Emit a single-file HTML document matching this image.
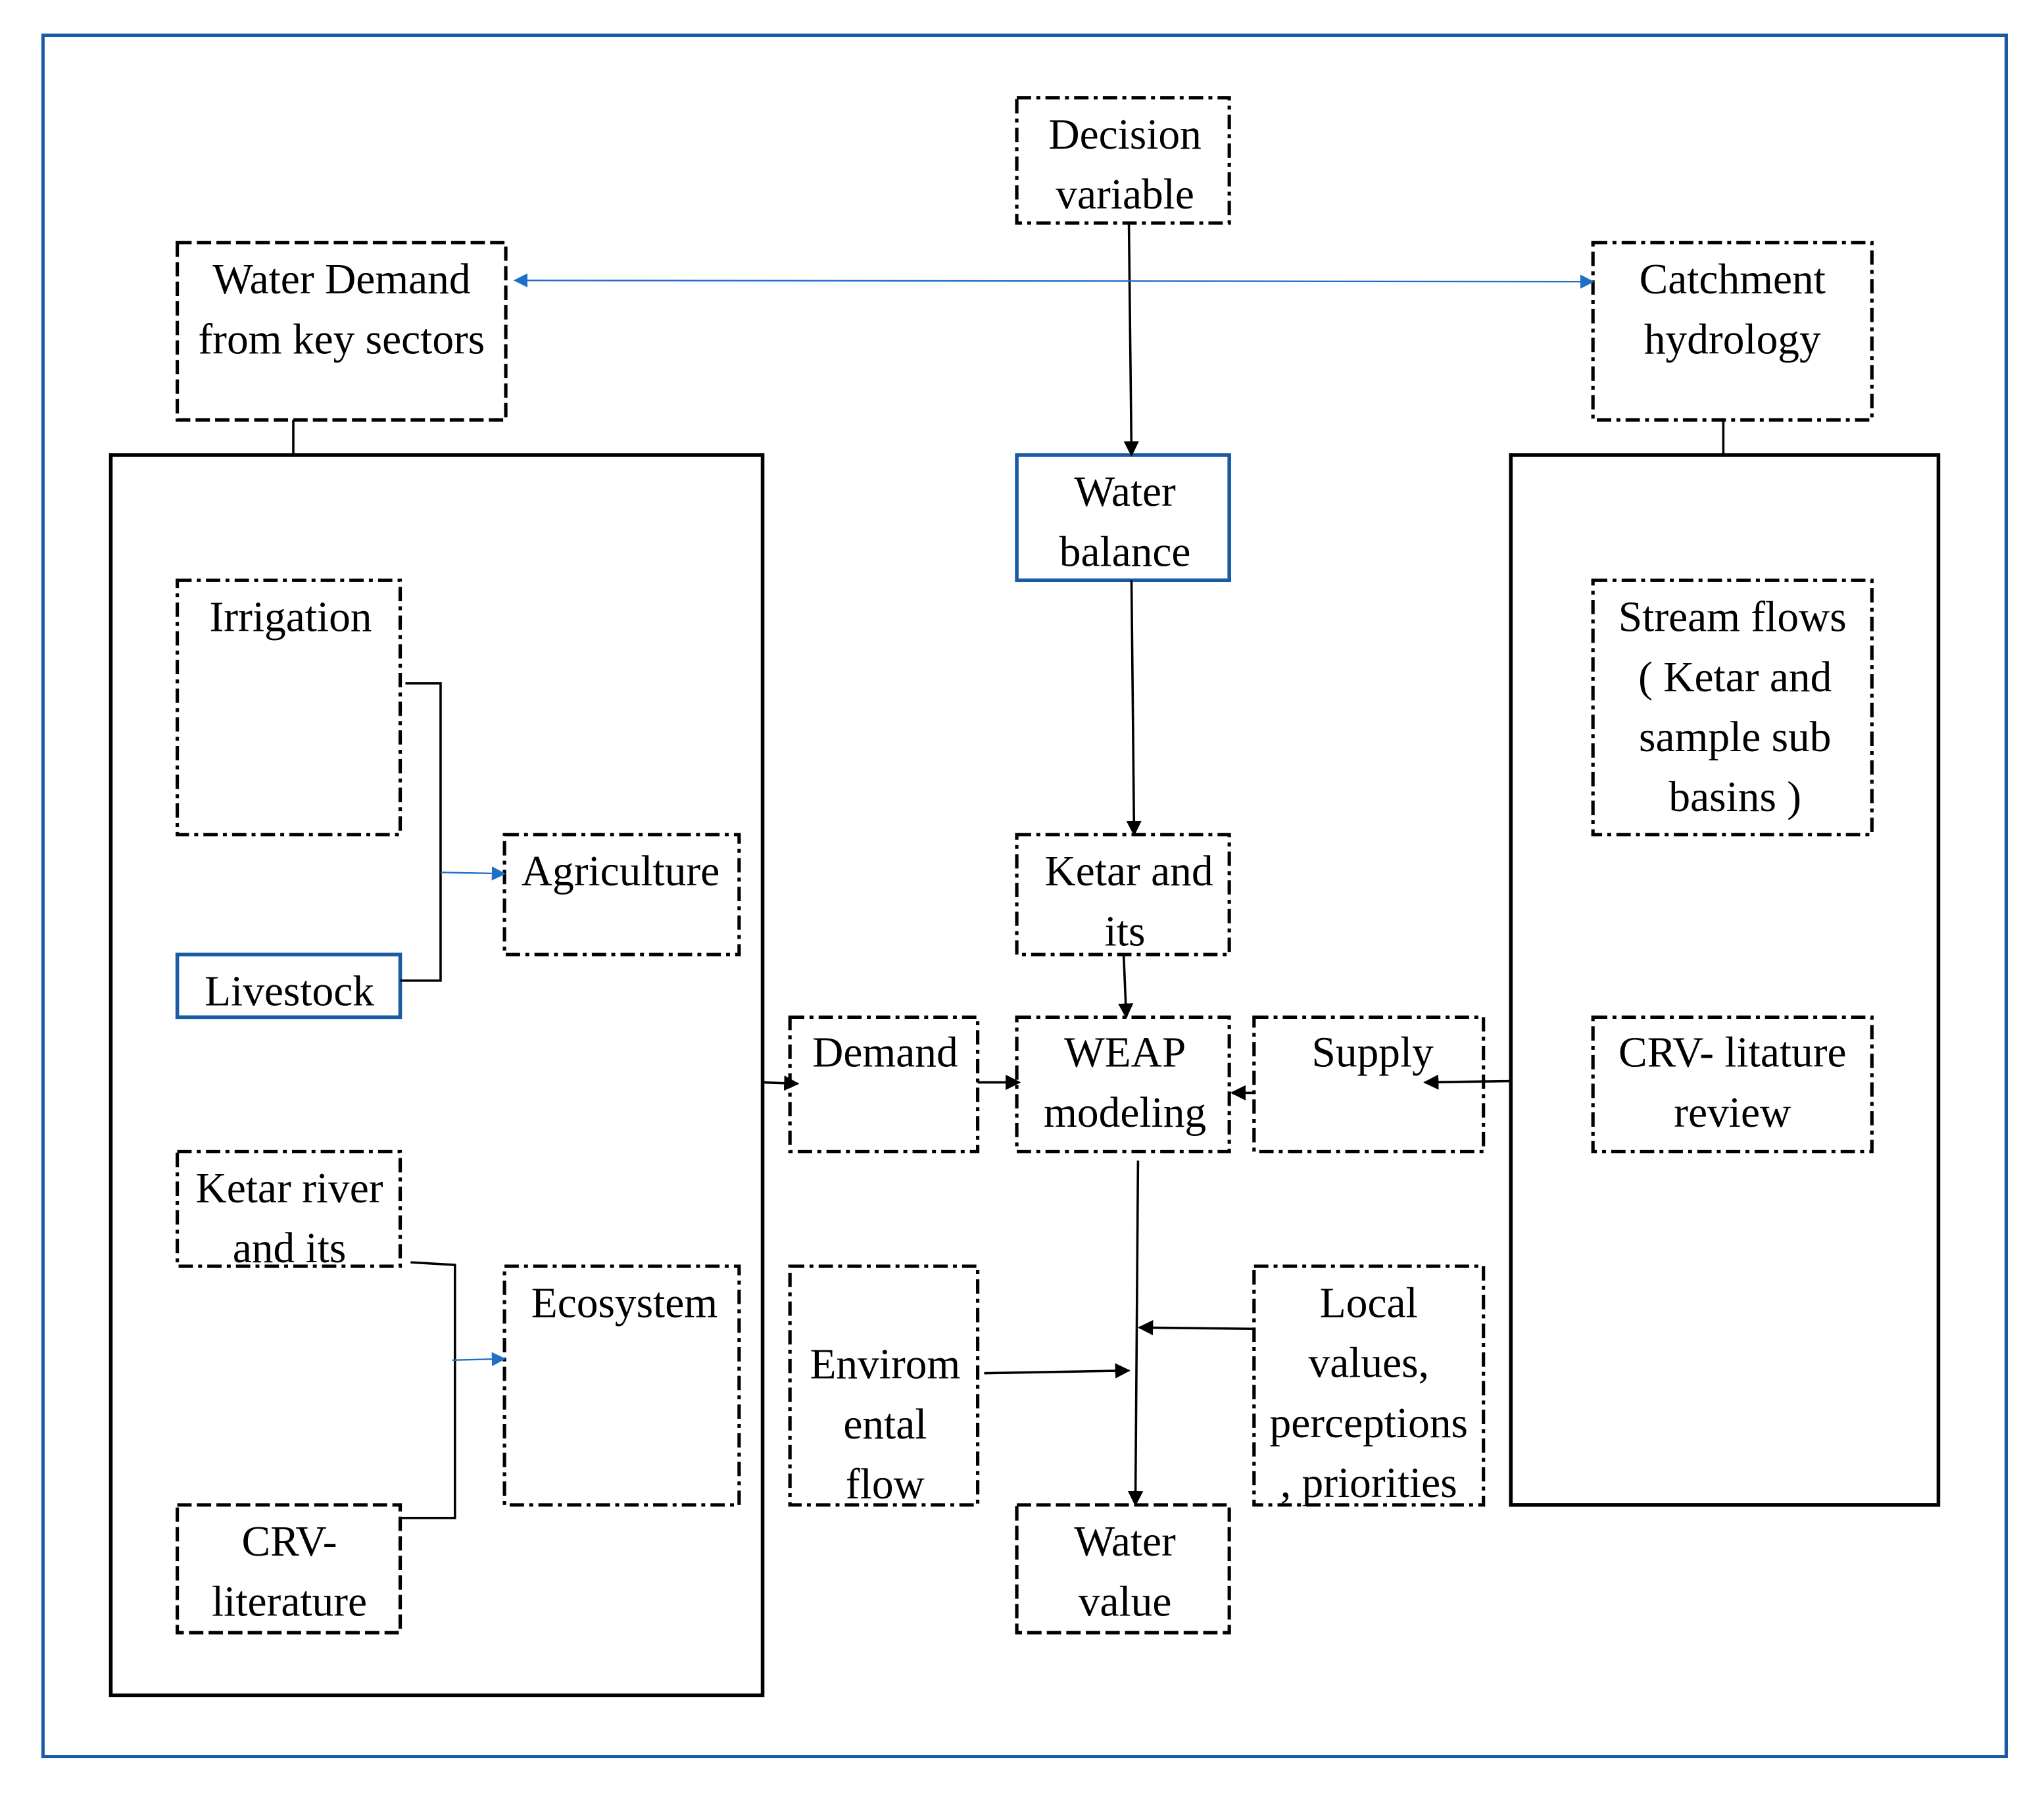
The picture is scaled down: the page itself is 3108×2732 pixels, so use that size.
<!DOCTYPE html>
<html><head><meta charset="utf-8"><style>html,body{margin:0;padding:0;background:#fff}svg{display:block}text{font-family:"Liberation Serif","Times New Roman",serif}</style></head>
<body>
<svg width="3108" height="2732" viewBox="0 0 1568 1378" preserveAspectRatio="none" xmlns="http://www.w3.org/2000/svg">
<defs>
<marker id="a" viewBox="0 0 10 10" refX="9" refY="5" markerWidth="6.5" markerHeight="6.5" orient="auto-start-reverse"><path d="M0,0 L10,5 L0,10 z" fill="#000"/></marker>
<marker id="b" viewBox="0 0 10 10" refX="9" refY="5" markerWidth="9" markerHeight="9" orient="auto-start-reverse"><path d="M0,0 L10,5 L0,10 z" fill="#1f6fc5"/></marker>
</defs>
<rect x="33" y="27" width="1506" height="1320" fill="none" stroke="#1a5ba6" stroke-width="2.5"/>
<g fill="none" stroke="#000" stroke-width="2.8">
<rect x="85" y="349" width="500" height="951"/>
<rect x="1159" y="349" width="328" height="805"/>
</g>
<g fill="none" stroke="#000" stroke-width="2.6" stroke-dasharray="11 4 3 4">
<rect x="780" y="75" width="163" height="96"/>
<rect x="1222" y="186" width="214" height="136"/>
<rect x="136" y="445" width="171" height="195"/>
<rect x="387" y="640" width="180" height="92"/>
<rect x="780" y="640" width="163" height="92"/>
<rect x="1222" y="445" width="214" height="195"/>
<rect x="606" y="780" width="144" height="103"/>
<rect x="780" y="780" width="163" height="103"/>
<rect x="962" y="780" width="176" height="103"/>
<rect x="1222" y="780" width="214" height="103"/>
<rect x="136" y="883" width="171" height="88"/>
<rect x="387" y="971" width="180" height="183"/>
<rect x="606" y="971" width="144" height="183"/>
<rect x="962" y="971" width="176" height="183"/>
</g>
<g fill="none" stroke="#000" stroke-width="2.6" stroke-dasharray="11 4">
<rect x="136" y="186" width="252" height="136"/>
<rect x="136" y="1154" width="171" height="98"/>
<rect x="780" y="1154" width="163" height="98"/>
</g>
<g fill="none" stroke="#1a5ba6" stroke-width="2.8">
<rect x="780" y="349" width="163" height="96"/>
<rect x="136" y="732" width="171" height="48"/>
</g>
<g fill="none" stroke="#000" stroke-width="1.8">
<line x1="225" y1="322" x2="225" y2="349"/>
<line x1="1322" y1="322" x2="1322" y2="349"/>
<line x1="866" y1="171" x2="868" y2="349" marker-end="url(#a)"/>
<line x1="868" y1="445" x2="870" y2="640" marker-end="url(#a)"/>
<line x1="862" y1="732" x2="864" y2="780" marker-end="url(#a)"/>
<line x1="585" y1="830" x2="612" y2="831" marker-end="url(#a)"/>
<line x1="750" y1="830" x2="782" y2="830" marker-end="url(#a)"/>
<line x1="1159" y1="829" x2="1093" y2="830" marker-end="url(#a)"/>
<line x1="962" y1="838" x2="945" y2="838" marker-end="url(#a)"/>
<line x1="755" y1="1053" x2="866" y2="1051" marker-end="url(#a)"/>
<line x1="962" y1="1019" x2="874" y2="1018" marker-end="url(#a)"/>
<line x1="873" y1="890" x2="871" y2="1154" marker-end="url(#a)"/>
<polyline points="311,524 338,524 338,752 307,752"/>
<polyline points="315,968 349,970 349,1164 307,1164"/>
</g>
<g fill="none" stroke="#1f6fc5" stroke-width="1.2">
<line x1="395" y1="215" x2="1222" y2="216" marker-start="url(#b)" marker-end="url(#b)"/>
<line x1="338" y1="669" x2="387" y2="670" marker-end="url(#b)"/>
<line x1="347" y1="1043" x2="387" y2="1042" marker-end="url(#b)"/>
</g>
<g font-size="33" text-anchor="middle" fill="#000">
<text x="863" y="114">Decision</text><text x="863" y="160">variable</text>
<text x="262" y="225">Water Demand</text><text x="262" y="271">from key sectors</text>
<text x="1329" y="225">Catchment</text><text x="1329" y="271">hydrology</text>
<text x="863" y="388">Water</text><text x="863" y="434">balance</text>
<text x="223" y="484">Irrigation</text>
<text x="476" y="679">Agriculture</text>
<text x="222" y="771">Livestock</text>
<text x="1329" y="484">Stream flows</text><text x="1331" y="530">( Ketar and</text><text x="1331" y="576">sample sub</text><text x="1331" y="622">basins )</text>
<text x="866" y="679">Ketar and</text><text x="863" y="725">its</text>
<text x="679" y="818">Demand</text>
<text x="863" y="818">WEAP</text><text x="863" y="864">modeling</text>
<text x="1053" y="818">Supply</text>
<text x="1329" y="818">CRV- litature</text><text x="1329" y="864">review</text>
<text x="222" y="922">Ketar river</text><text x="222" y="968">and its</text>
<text x="479" y="1010">Ecosystem</text>
<text x="679" y="1057">Envirom</text><text x="679" y="1103">ental</text><text x="679" y="1149">flow</text>
<text x="1050" y="1010">Local</text><text x="1050" y="1056">values,</text><text x="1050" y="1102">perceptions</text><text x="1050" y="1148">, priorities</text>
<text x="222" y="1193">CRV-</text><text x="222" y="1239">literature</text>
<text x="863" y="1193">Water</text><text x="863" y="1239">value</text>
</g>
</svg>
</body></html>
